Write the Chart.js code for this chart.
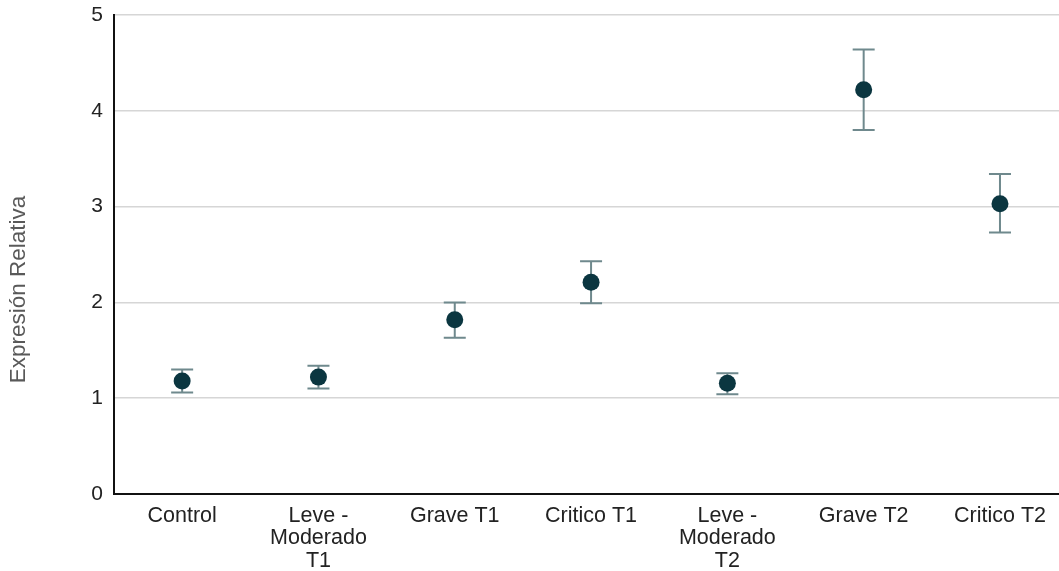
<!DOCTYPE html>
<html>
<head>
<meta charset="utf-8">
<script src="https://cdn.jsdelivr.net/npm/chart.js@4/dist/chart.umd.min.js"></script>
<style>
  html, body { margin: 0; padding: 0; background: #ffffff; overflow: hidden; }
  #c { display: block; }
</style>
</head>
<body>
<canvas id="c" width="1059" height="571"></canvas>
<script>
// Groups on the x axis (multi-line labels)
const categories = [
  "Control",
  ["Leve -", "Moderado", "T1"],
  "Grave T1",
  "Critico T1",
  ["Leve -", "Moderado", "T2"],
  "Grave T2",
  "Critico T2"
];
// Mean relative expression per group
const means = [1.18, 1.22, 1.82, 2.21, 1.155, 4.22, 3.03];
// Error bar limits per group
const lowerBounds = [1.06, 1.10, 1.63, 1.99, 1.04, 3.80, 2.73];
const upperBounds = [1.30, 1.34, 2.00, 2.43, 1.26, 4.64, 3.34];
// Y axis ticks and title
const yTicks = [0, 1, 2, 3, 4, 5];
const yTitle = 'Expresión Relativa';

const FONT = "'Liberation Sans', Arial, sans-serif";

// Each group sits at its index; half a band of space on the left,
// and the last band is cut a little by the right edge.
const points = means.map((v, i) => ({ x: i, y: v }));

// Draws the vertical error bars with caps underneath the points
const errorBars = {
  id: 'errorBars',
  beforeDatasetsDraw(chart) {
    const ctx = chart.ctx;
    const xs = chart.scales.x;
    const ys = chart.scales.y;
    const cap = 11;
    ctx.save();
    ctx.strokeStyle = '#6f898d';
    ctx.lineWidth = 2;
    means.forEach((_, i) => {
      const x = xs.getPixelForValue(i);
      const yTop = ys.getPixelForValue(upperBounds[i]);
      const yBot = ys.getPixelForValue(lowerBounds[i]);
      ctx.beginPath();
      ctx.moveTo(x, yTop); ctx.lineTo(x, yBot);
      ctx.moveTo(x - cap, yTop); ctx.lineTo(x + cap, yTop);
      ctx.moveTo(x - cap, yBot); ctx.lineTo(x + cap, yBot);
      ctx.stroke();
    });
    ctx.restore();
  }
};

// Rotated y axis title, placed a little below the middle of the plot
const axisTitle = {
  id: 'axisTitle',
  afterDraw(chart) {
    const ctx = chart.ctx;
    const area = chart.chartArea;
    ctx.save();
    ctx.translate(18.5, (area.top + area.bottom) / 2 + 35);
    ctx.rotate(-Math.PI / 2);
    ctx.fillStyle = '#595959';
    ctx.font = "22.5px " + FONT;
    ctx.textAlign = 'center';
    ctx.textBaseline = 'middle';
    ctx.fillText(yTitle, 0, 0);
    ctx.restore();
  }
};

new Chart(document.getElementById('c'), {
  type: 'scatter',
  data: {
    datasets: [{
      data: points,
      showLine: false,
      pointRadius: 8.5,
      pointHoverRadius: 8.5,
      pointBackgroundColor: '#0b3640',
      pointBorderColor: '#0b3640',
      pointBorderWidth: 0
    }]
  },
  options: {
    responsive: false,
    animation: false,
    events: [],
    layout: { autoPadding: false, padding: { top: 15, left: 0, right: 0, bottom: 0 } },
    plugins: {
      legend: { display: false },
      tooltip: { enabled: false }
    },
    scales: {
      x: {
        type: 'linear',
        min: -0.5,
        max: 6.433,
        afterBuildTicks(scale) { scale.ticks = categories.map((_, i) => ({ value: i })); },
        grid: { display: false, drawTicks: false },
        border: { display: true, color: '#111111', width: 2 },
        ticks: {
          color: '#222222',
          padding: 11,
          maxRotation: 0,
          autoSkip: false,
          callback: (value) => categories[value],
          font: { family: FONT, size: 21.5, lineHeight: 1.04 }
        },
        afterFit(scale) {
          scale.height = 77;
          scale.paddingLeft = 0;
          scale.paddingRight = 0;
        }
      },
      y: {
        min: 0,
        max: 5,
        afterBuildTicks(scale) { scale.ticks = yTicks.map(v => ({ value: v })); },
        grid: { color: '#d6d6d6', lineWidth: 1.5, drawTicks: false },
        border: { display: true, color: '#111111', width: 2 },
        ticks: {
          color: '#222222',
          padding: 11,
          font: { family: FONT, size: 21 }
        },
        afterFit(scale) {
          scale.width = 114;
          scale.paddingTop = 0;
          scale.paddingBottom = 0;
        }
      }
    }
  },
  plugins: [errorBars, axisTitle]
});
</script>
</body>
</html>
